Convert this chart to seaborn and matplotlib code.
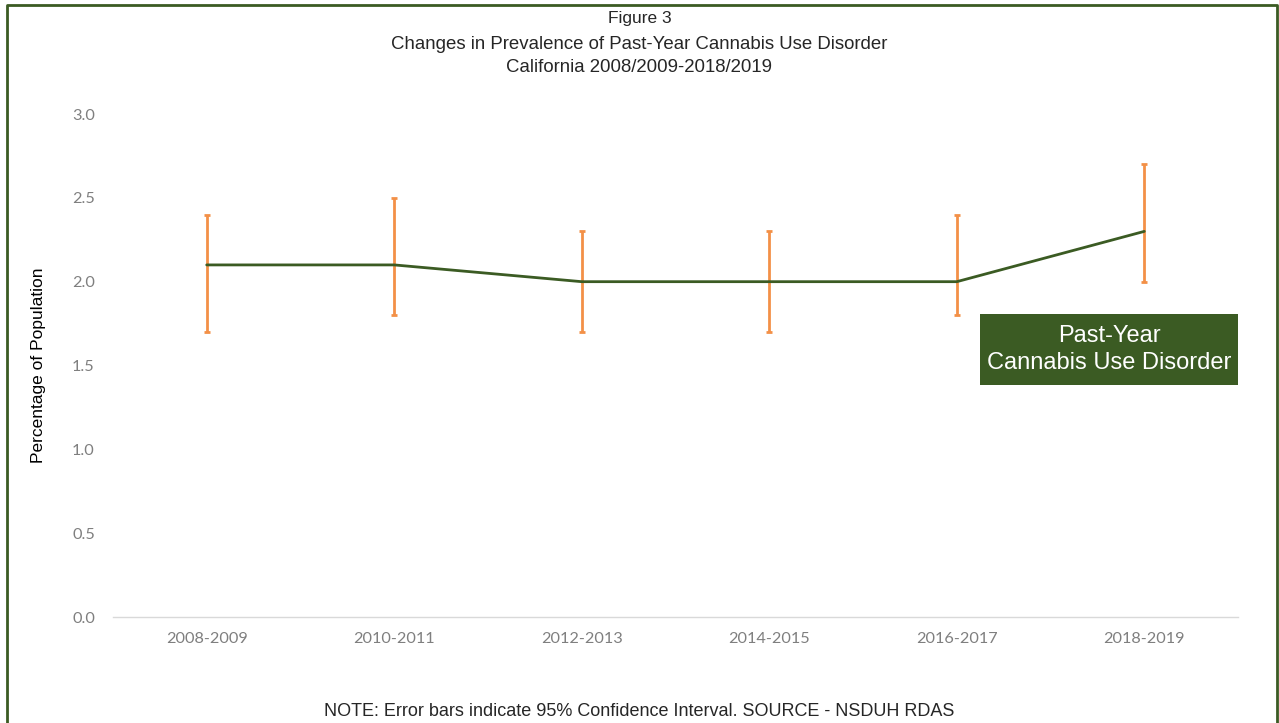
import numpy as np
import pandas as pd
import matplotlib
matplotlib.use("Agg")
import matplotlib.pyplot as plt
import seaborn as sns

periods = ["2008-2009", "2010-2011", "2012-2013", "2014-2015", "2016-2017", "2018-2019"]
prevalence = [2.1, 2.1, 2.0, 2.0, 2.0, 2.3]
ci_low = [1.7, 1.8, 1.7, 1.7, 1.8, 2.0]
ci_high = [2.4, 2.5, 2.3, 2.3, 2.4, 2.7]
y_ticks = [0.0, 0.5, 1.0, 1.5, 2.0, 2.5, 3.0]

green = "#3B5B23"
orange = "#F39047"
tick_gray = "#7F7F7F"

df = pd.DataFrame({"period": periods, "value": prevalence,
                   "low": ci_low, "high": ci_high})

sns.set_style("white")
plt.rcParams["font.family"] = ["Liberation Sans", "DejaVu Sans"]

fig = plt.figure(figsize=(12.79, 7.23), dpi=100)
ax = fig.add_axes([0.0883, 0.1466, 0.968 - 0.0883, 0.8423 - 0.1466])

sns.lineplot(data=df, x="period", y="value", sort=False, color=green,
             linewidth=2, ax=ax, zorder=3)

xpos = np.arange(len(df))
yerr = [df["value"] - df["low"], df["high"] - df["value"]]
ax.errorbar(xpos, df["value"], yerr=yerr, fmt="none", ecolor=orange,
            elinewidth=2, capsize=2.5, capthick=2, zorder=2)

ax.set_xlim(-0.5, len(df) - 0.5)
ax.set_ylim(0, 3.0)
ax.set_yticks(y_ticks)
ax.set_yticklabels([f"{t:.1f}" for t in y_ticks])
ax.set_xlabel("")
ax.set_ylabel("Percentage of Population", fontsize=12.5, color="black", labelpad=19)

for s in ["top", "right", "left"]:
    ax.spines[s].set_visible(False)
ax.spines["bottom"].set_color("#D9D9D9")
ax.spines["bottom"].set_linewidth(1)
ax.tick_params(axis="both", length=0, colors=tick_gray, labelsize=11.7)
ax.tick_params(axis="y", pad=13)
ax.tick_params(axis="x", pad=11)
for lab in ax.get_xticklabels() + ax.get_yticklabels():
    lab.set_family(["Lato", "DejaVu Sans"])

# label box for the series
fig.add_artist(plt.Rectangle((0.7662, 0.4675), 0.2017, 0.0982, facecolor=green,
                             edgecolor="none", transform=fig.transFigure))
fig.text(0.8671, 0.5166, "Past-Year\nCannabis Use Disorder", ha="center", va="center",
         fontsize=17, color="white", linespacing=1.3)

fig.text(0.5, 0.974, "Figure 3", ha="center", va="center", fontsize=12.5)
fig.text(0.5, 0.938, "Changes in Prevalence of Past-Year Cannabis Use Disorder",
         ha="center", va="center", fontsize=13.4)
fig.text(0.5, 0.906, "California 2008/2009-2018/2019", ha="center", va="center",
         fontsize=13.4)
fig.text(0.5, 0.016, "NOTE: Error bars indicate 95% Confidence Interval. SOURCE - NSDUH RDAS",
         ha="center", va="center", fontsize=13)

# figure frame
frame_x = [0.0055, 0.0055, 0.9985, 0.9985]
frame_y = [-0.01, 0.9935, 0.9935, -0.01]
fig.add_artist(plt.Line2D(frame_x, frame_y, color=green, linewidth=2,
                          transform=fig.transFigure))

fig.savefig("out.png", dpi=100)
